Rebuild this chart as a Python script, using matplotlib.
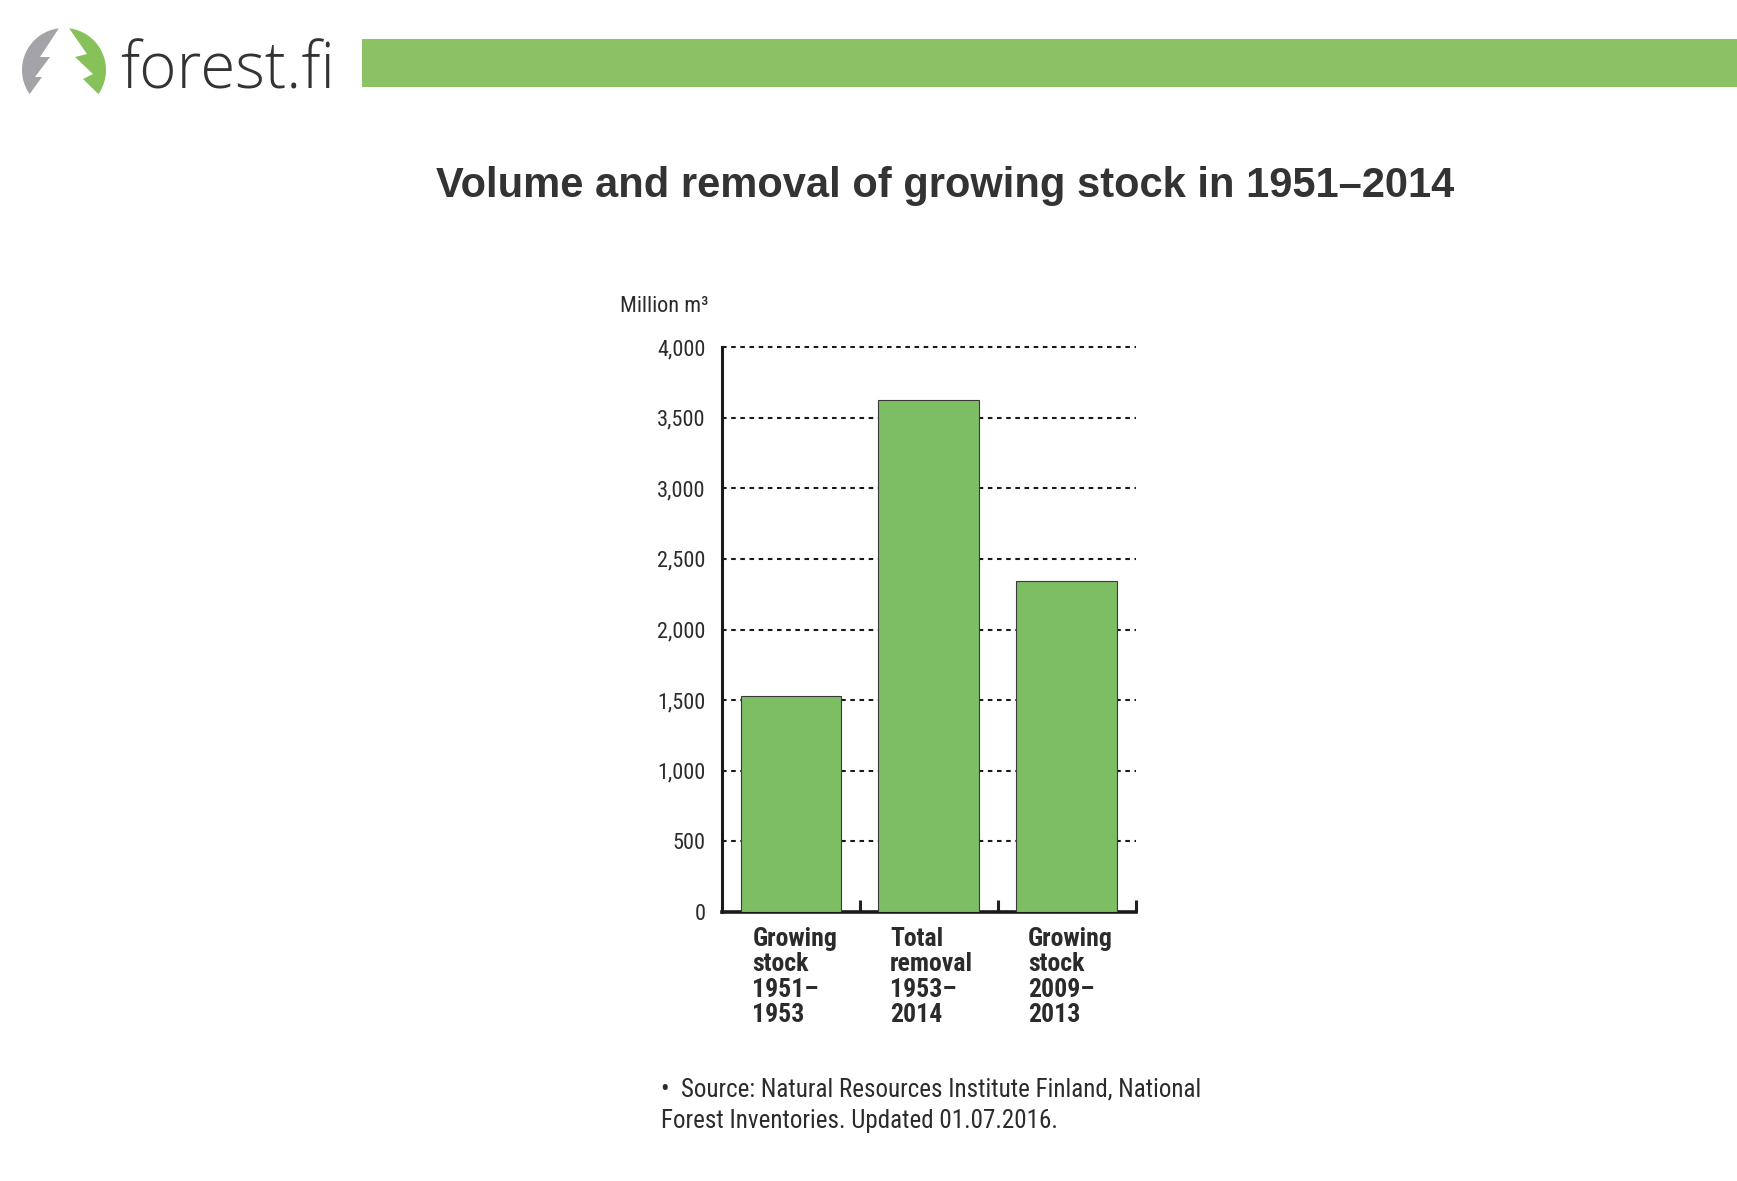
import numpy as np
import matplotlib.pyplot as plt
from matplotlib.patches import Polygon, Rectangle
from matplotlib.ticker import FixedLocator

# data (million m3)
categories = ["Growing\nstock\n1951\u2013\n1953",
              "Total\nremoval\n1953\u2013\n2014",
              "Growing\nstock\n2009\u2013\n2013"]
volumes = [1530, 3625, 2345]
yticks = [0, 500, 1000, 1500, 2000, 2500, 3000, 3500, 4000]

narrow = ['Roboto Condensed', 'DejaVu Sans']
bar_green = '#7dbd63'
head_green = '#8cc265'
txt = '#2b2b2b'

W, H = 1737, 1181
fig = plt.figure(figsize=(W / 100, H / 100), dpi=100)
fig.patch.set_facecolor('white')

# decoration layer in pixel coords (header bar + logo)
deco = fig.add_axes([0, 0, 1, 1], zorder=0)
deco.set_xlim(0, W)
deco.set_ylim(H, 0)
deco.axis('off')
deco.add_patch(Rectangle((362, 39), W - 362, 48, color=head_green, lw=0))

cx, cy, r = 64, 70, 42
a = np.radians(np.linspace(97, 215, 40))
gray_pts = list(zip(cx + r * np.cos(a), cy - r * np.sin(a))) + \
    [(42, 77), (35, 77), (50, 57), (40, 57)]
deco.add_patch(Polygon(gray_pts, closed=True, color='#a3a3a8', lw=0))
a = np.radians(np.linspace(83, -35, 40))
green_pts = list(zip(cx + r * np.cos(a), cy - r * np.sin(a))) + \
    [(83, 79), (93, 74), (75, 57), (87, 54)]
deco.add_patch(Polygon(green_pts, closed=True, color='#86c15a', lw=0))
deco.text(120, 72, 'forest.fi', fontsize=46, family=['Open Sans', 'DejaVu Sans'],
          fontweight=300, color='#333333', va='center', ha='left')

# title
fig.text(945 / W, 1 - 186 / H, 'Volume and removal of growing stock in 1951\u20132014',
         ha='center', va='center', fontsize=30, fontweight='bold',
         family=['Liberation Sans', 'DejaVu Sans'], color='#333333')

# chart
ax = fig.add_axes([722 / W, 1 - 912 / H, 413.5 / W, 565 / H], zorder=2)
ax.patch.set_alpha(0)
x = np.arange(len(volumes))
ax.bar(x, volumes, width=0.73, color=bar_green, edgecolor='#3a3a3a', linewidth=0.8, zorder=3)
ax.set_xlim(-0.5, 2.5)
ax.set_ylim(0, 4000)
ax.set_yticks(yticks)
ax.set_yticklabels([f'{v:,}' for v in yticks], family=narrow, fontsize=16, color=txt)
ax.tick_params(axis='y', length=0, pad=12)
ax.yaxis.grid(True, color='#1a1a1a', lw=1.5, dashes=(2.2, 2.2), zorder=1)
for gl in ax.get_ygridlines():
    gl.set_clip_on(False)

ax.set_xticks(x - 0.28)
ax.set_xticklabels(categories, family=narrow, fontsize=18.5, fontweight='bold',
                   color=txt, ha='left', va='top', linespacing=1.06)
ax.tick_params(axis='x', which='major', length=0, pad=11)
ax.xaxis.set_minor_locator(FixedLocator([0.5, 1.5, 2.5]))
ax.tick_params(axis='x', which='minor', direction='in', length=9, width=2.2, color='#222222')

for s in ['top', 'right']:
    ax.spines[s].set_visible(False)
ax.spines['left'].set_linewidth(2.2)
ax.spines['bottom'].set_linewidth(2.6)
ax.spines['left'].set_color('#1a1a1a')
ax.spines['bottom'].set_color('#1a1a1a')

fig.text(620 / W, 1 - 307 / H, 'Million m\u00b3', family=narrow, fontsize=16,
         color=txt, ha='left', va='center')

# source note
fig.text(661 / W, 1 - 1089 / H, '\u2022  Source: Natural Resources Institute Finland, National',
         family=narrow, fontsize=18, color=txt, ha='left', va='center')
fig.text(661 / W, 1 - 1121 / H, 'Forest Inventories. Updated 01.07.2016.',
         family=narrow, fontsize=18, color=txt, ha='left', va='center')

fig.savefig('out.png', dpi=100, facecolor='white')
